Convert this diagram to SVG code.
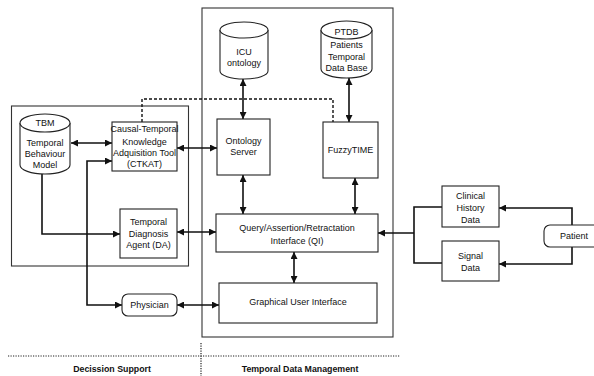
<svg xmlns="http://www.w3.org/2000/svg" width="594" height="376" viewBox="0 0 594 376">
<style>
.box{fill:#fff;stroke:#222;stroke-width:1.1}
.frame{fill:none;stroke:#333;stroke-width:1.1}
.t{font-family:"Liberation Sans",Arial,sans-serif;font-size:9px;fill:#111;text-anchor:middle}
.b{font-family:"Liberation Sans",Arial,sans-serif;font-size:8.8px;font-weight:bold;fill:#111;text-anchor:middle}
.c{fill:none;stroke:#111;stroke-width:1.6}
.dash{fill:none;stroke:#111;stroke-width:1.4;stroke-dasharray:3,2}
.dot{fill:none;stroke:#222;stroke-width:1.2;stroke-dasharray:1.2,1.3}
</style>
<defs>
<marker id="ah" viewBox="0 0 10 10" refX="10" refY="5" markerWidth="9" markerHeight="7" orient="auto-start-reverse" markerUnits="userSpaceOnUse">
<path d="M0,0 L10,5 L0,10 z" fill="#111"/>
</marker>
</defs>
<rect width="594" height="376" fill="#fff"/>
<g id="frames">
<rect class="frame" x="202" y="8" width="191" height="329"/>
<rect class="frame" x="11.5" y="106" width="177" height="160"/>
</g>
<g id="connectors">
<path class="c" d="M71,143 H112" marker-start="url(#ah)" marker-end="url(#ah)"/>
<path class="c" d="M112,161 H87 V305 H122" marker-start="url(#ah)" marker-end="url(#ah)"/>
<path class="c" d="M42,174 V234 H120" marker-end="url(#ah)"/>
<path class="c" d="M177,148 H217" marker-start="url(#ah)" marker-end="url(#ah)"/>
<path class="c" d="M177,232 H216" marker-start="url(#ah)" marker-end="url(#ah)"/>
<path class="c" d="M243,79 V119" marker-start="url(#ah)" marker-end="url(#ah)"/>
<path class="c" d="M349,78 V122" marker-start="url(#ah)" marker-end="url(#ah)"/>
<path class="c" d="M243,175 V214" marker-start="url(#ah)" marker-end="url(#ah)"/>
<path class="c" d="M355,178 V214" marker-start="url(#ah)" marker-end="url(#ah)"/>
<path class="c" d="M294,252 V283" marker-start="url(#ah)" marker-end="url(#ah)"/>
<path class="c" d="M177,305 H219" marker-start="url(#ah)" marker-end="url(#ah)"/>
<path class="c" d="M442,207 H414 V263 H442"/>
<path class="c" d="M414,233 H378" marker-end="url(#ah)"/>
<path class="c" d="M572,225 V208 H499" marker-end="url(#ah)"/>
<path class="c" d="M572,247 V264 H499" marker-end="url(#ah)"/>
<path class="dash" d="M142,122 V99 H333 V122"/>
</g>
<g id="tbm">
<path class="box" d="M20,123 A25,9 0 0,1 70,123 V165 A25,9 0 0,1 20,165 Z"/>
<path class="box" d="M20,123 A25,9 0 0,0 70,123" fill="none"/>
<text class="t" x="45" y="126">TBM</text>
<text class="t" x="45" y="146">Temporal</text>
<text class="t" x="45" y="157">Behaviour</text>
<text class="t" x="45" y="168">Model</text>
</g>
<g id="ctkat">
<rect class="box" x="112" y="122" width="65" height="49"/>
<text class="t" x="144.5" y="132">Causal-Temporal</text>
<text class="t" x="144.5" y="145">Knowledge</text>
<text class="t" x="144.5" y="156">Adquisition Tool</text>
<text class="t" x="144.5" y="167">(CTKAT)</text>
</g>
<g id="da">
<rect class="box" x="120" y="209" width="57" height="49"/>
<text class="t" x="148.5" y="225">Temporal</text>
<text class="t" x="148.5" y="237">Diagnosis</text>
<text class="t" x="148.5" y="248">Agent (DA)</text>
</g>
<g id="physician">
<rect class="box" x="122" y="294" width="55" height="22" rx="6"/>
<text class="t" x="149.5" y="308">Physician</text>
</g>
<g id="icu">
<path class="box" d="M220,30 A24,8 0 0,1 268,30 V71 A24,8 0 0,1 220,71 Z"/>
<path class="box" d="M220,30 A24,8 0 0,0 268,30" fill="none"/>
<text class="t" x="244" y="55">ICU</text>
<text class="t" x="244" y="66">ontology</text>
</g>
<g id="ptdb">
<path class="box" d="M321,30 A25.5,9 0 0,1 372,30 V69 A25.5,9 0 0,1 321,69 Z"/>
<path class="box" d="M321,30 A25.5,9 0 0,0 372,30" fill="none"/>
<text class="t" x="346.5" y="35">PTDB</text>
<text class="t" x="346.5" y="48">Patients</text>
<text class="t" x="346.5" y="60">Temporal</text>
<text class="t" x="346.5" y="71">Data Base</text>
</g>
<g id="ontology-server">
<rect class="box" x="217" y="119" width="53" height="56"/>
<text class="t" x="243.5" y="144">Ontology</text>
<text class="t" x="243.5" y="155">Server</text>
</g>
<g id="fuzzytime">
<rect class="box" x="323" y="122" width="55" height="56"/>
<text class="t" x="350.5" y="153">FuzzyTIME</text>
</g>
<g id="qi">
<rect class="box" x="216" y="214" width="162" height="38"/>
<text class="t" x="297" y="231">Query/Assertion/Retractation</text>
<text class="t" x="297" y="244">Interface (QI)</text>
</g>
<g id="gui">
<rect class="box" x="219" y="283" width="158" height="40"/>
<text class="t" x="298" y="305">Graphical User Interface</text>
</g>
<g id="clinical">
<rect class="box" x="442" y="186" width="57" height="41"/>
<text class="t" x="470.5" y="199">Clinical</text>
<text class="t" x="470.5" y="211">History</text>
<text class="t" x="470.5" y="223">Data</text>
</g>
<g id="signal">
<rect class="box" x="442" y="241" width="57" height="40"/>
<text class="t" x="470.5" y="259">Signal</text>
<text class="t" x="470.5" y="271">Data</text>
</g>
<g id="patient">
<rect class="box" x="544" y="225" width="62" height="22" rx="6"/>
<text class="t" x="574" y="239">Patient</text>
</g>
<g id="legend">
<path class="dot" d="M8,356 H400"/>
<path class="dot" d="M201,343 V376"/>
<text class="b" x="112" y="372">Decission Support</text>
<text class="b" x="300" y="372">Temporal Data Management</text>
</g>
</svg>
